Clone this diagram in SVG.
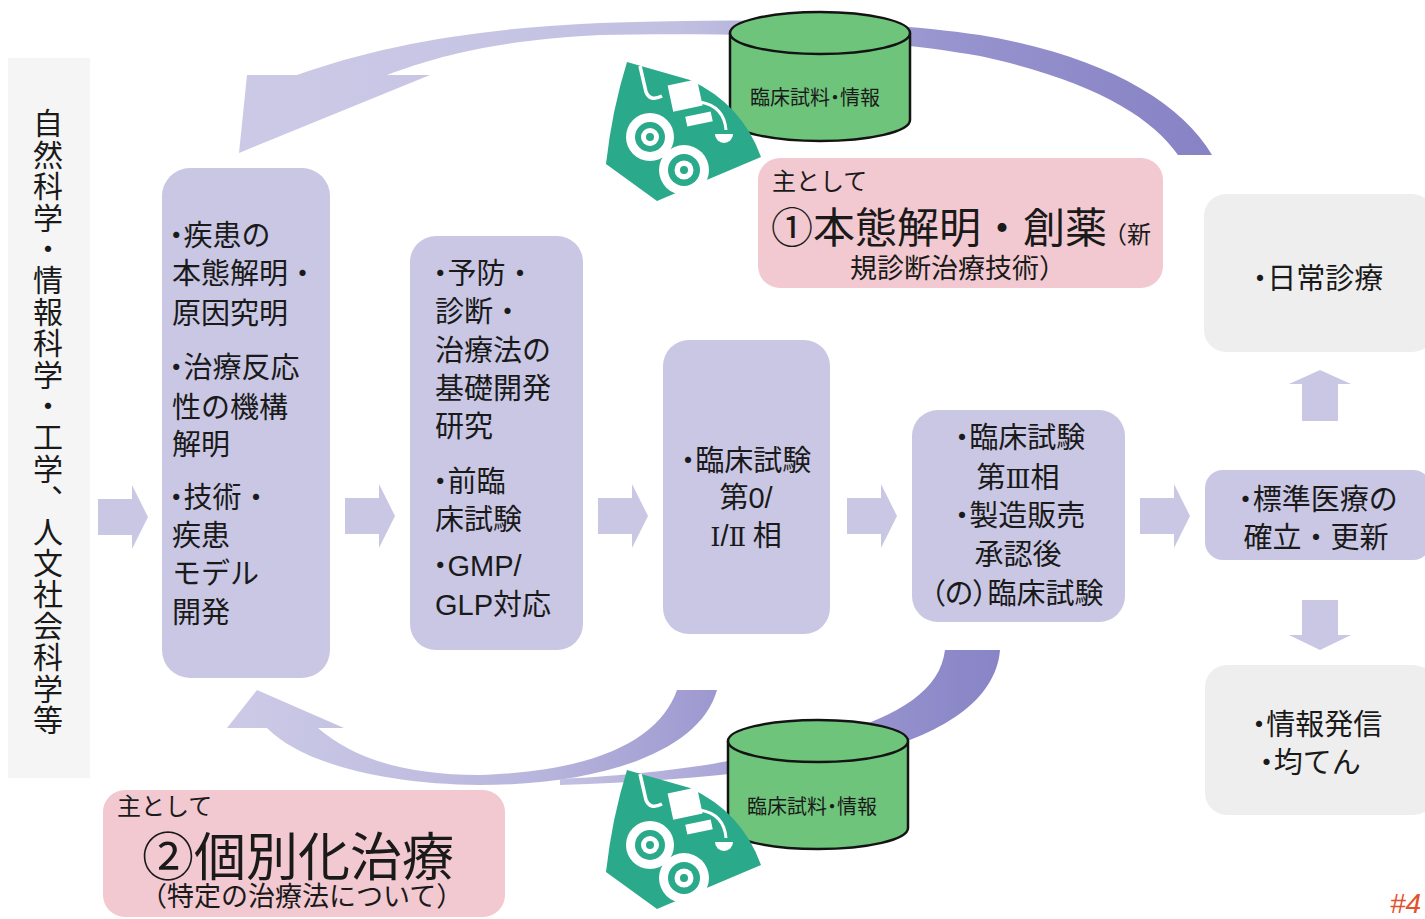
<svg xmlns="http://www.w3.org/2000/svg" xmlns:xlink="http://www.w3.org/1999/xlink" width="1425" height="919" viewBox="0 0 1425 919">
  <style>
    .jp { font-family: "Noto Sans CJK JP", "Liberation Sans", sans-serif; fill: #1a1a1a; }
    .lat { font-family: "Liberation Sans", "Noto Sans CJK JP", sans-serif; }
    .rom { font-family: "DejaVu Serif", "Liberation Serif", "Noto Sans CJK JP", serif; font-size: 26px; }
    .dot { font-feature-settings: "palt"; }
    .box { fill: #c9c7e4; }
    .grey { fill: #eeeeee; }
    .pink { fill: #f2c9d1; }
    .blk { fill: #c9c7e4; }
    .t29 { font-size: 29px; }
    .mid { text-anchor: middle; }
    .cyl { fill: #6fc47b; stroke: #141414; stroke-width: 2.5; }
    .teal { fill: #2aa98b; }
    .wht { fill: #ffffff; }
  </style>
  <defs>
    <linearGradient id="gTop" gradientUnits="userSpaceOnUse" x1="300" y1="0" x2="1200" y2="0">
      <stop offset="0" stop-color="#cbc9e6"/>
      <stop offset="0.42" stop-color="#c2c0e1"/>
      <stop offset="0.7" stop-color="#9995cf"/>
      <stop offset="1" stop-color="#8783c5"/>
    </linearGradient>
    <linearGradient id="gLowA" gradientUnits="userSpaceOnUse" x1="250" y1="0" x2="720" y2="0">
      <stop offset="0" stop-color="#cbc9e6"/>
      <stop offset="0.6" stop-color="#b9b6dd"/>
      <stop offset="1" stop-color="#9c98d0"/>
    </linearGradient>
    <linearGradient id="gLowB" gradientUnits="userSpaceOnUse" x1="560" y1="0" x2="1000" y2="0">
      <stop offset="0" stop-color="#c3c1e2"/>
      <stop offset="0.5" stop-color="#a19dd3"/>
      <stop offset="1" stop-color="#8884c6"/>
    </linearGradient>
    <!-- right-pointing block arrow, origin at tail centre -->
    <path id="arrowR" d="M0,-18 L34,-18 L34,-32 L50,0 L34,32 L34,18 L0,18 Z"/>
    <!-- media clip-art: sheet with two discs, monitor and stethoscope -->
    <g id="media">
      <path class="teal" d="M627,62 L690,80 Q742,104 761,157 L657,201 L606,164 Q612,110 627,62 Z"/>
      <path d="M640,66 L646,92 Q650,102 662,96" fill="none" stroke="#ffffff" stroke-width="3.5"/>
      <rect class="wht" x="670" y="82" width="30" height="27" transform="rotate(-12 685 95)"/>
      <rect class="wht" x="686" y="114" width="26" height="10" transform="rotate(-12 699 119)"/>
      <path d="M700,102 Q724,106 726,130" fill="none" stroke="#ffffff" stroke-width="3"/>
      <path class="wht" d="M715,134 A9,9 0 0 0 733,134 Z"/>
      <circle class="wht" cx="650" cy="137" r="24"/>
      <circle class="teal" cx="650" cy="137" r="15"/>
      <circle class="wht" cx="650" cy="137" r="9"/>
      <circle class="teal" cx="650" cy="137" r="4"/>
      <circle class="wht" cx="684" cy="170" r="25"/>
      <circle class="teal" cx="684" cy="170" r="16"/>
      <circle class="wht" cx="684" cy="170" r="9.5"/>
      <circle class="teal" cx="684" cy="170" r="4"/>
    </g>
  </defs>

  <rect width="1425" height="919" fill="#ffffff"/>

  <!-- discipline label, vertical -->
  <g id="disciplines">
    <rect x="8" y="58" width="82" height="720" fill="#f5f5f5"/>
    <text class="jp" x="48" y="108" font-size="30" letter-spacing="1.4" writing-mode="vertical-rl">自然科学・情報科学・工学、人文社会科学等</text>
  </g>

  <!-- connectors: sweeping feedback bands and block arrows -->
  <g id="connectors">
    <path fill="url(#gTop)" d="M239,153 L247,75 L297,75 C380,45 480,28 600,23 C750,18 880,20 980,35 C1100,55 1180,100 1212,155 L1178,155 C1150,115 1090,80 980,56 C880,38 750,32 600,35 C500,40 440,55 387,75 L430,75 Z"/>
    <path fill="url(#gLowA)" d="M257,690 L227,728 L267,728 C300,762 380,784 480,785 C600,785 700,752 717,690 L677,690 C660,738 600,771 480,775 C400,775 350,756 318,728 L344,728 Z"/>
    <path fill="url(#gLowB)" d="M945,650 L1000,650 C996,700 942,736 862,754 C780,771 680,781 560,785 L560,779 C680,773 760,758 830,737 C902,714 940,690 945,650 Z"/>
    <use xlink:href="#arrowR" class="blk" transform="translate(98,517)"/>
    <use xlink:href="#arrowR" class="blk" transform="translate(345,516)"/>
    <use xlink:href="#arrowR" class="blk" transform="translate(598,516)"/>
    <use xlink:href="#arrowR" class="blk" transform="translate(847,516)"/>
    <use xlink:href="#arrowR" class="blk" transform="translate(1140,516)"/>
    <path class="blk" d="M1302,421 L1302,384 L1289,384 L1320,370 L1351,384 L1338,384 L1338,421 Z"/>
    <path class="blk" d="M1302,600 L1338,600 L1338,635 L1351,635 L1320,650 L1289,635 L1302,635 Z"/>
  </g>

  <g id="basic-research">
    <rect class="box" x="162" y="168" width="168" height="510" rx="28"/>
    <text class="jp t29" x="169" y="246"><tspan class="dot">・</tspan>疾患の</text>
    <text class="jp t29" x="172" y="284">本態解明・</text>
    <text class="jp t29" x="172" y="324">原因究明</text>
    <text class="jp t29" x="169" y="378"><tspan class="dot">・</tspan>治療反応</text>
    <text class="jp t29" x="172" y="418">性の機構</text>
    <text class="jp t29" x="172" y="455">解明</text>
    <text class="jp t29" x="169" y="508"><tspan class="dot">・</tspan>技術・</text>
    <text class="jp t29" x="172" y="546">疾患</text>
    <text class="jp t29" x="172" y="584">モデル</text>
    <text class="jp t29" x="172" y="623">開発</text>
  </g>

  <g id="applied-research">
    <rect class="box" x="410" y="236" width="173" height="414" rx="26"/>
    <text class="jp t29" x="433" y="284"><tspan class="dot">・</tspan>予防・</text>
    <text class="jp t29" x="435" y="322">診断・</text>
    <text class="jp t29" x="435" y="361">治療法の</text>
    <text class="jp t29" x="435" y="399">基礎開発</text>
    <text class="jp t29" x="435" y="437">研究</text>
    <text class="jp t29" x="433" y="492"><tspan class="dot">・</tspan>前臨</text>
    <text class="jp t29" x="435" y="530">床試験</text>
    <text class="jp t29" x="433" y="576"><tspan class="dot">・</tspan><tspan class="lat">GMP/</tspan></text>
    <text class="jp t29" x="435" y="615"><tspan class="lat">GLP</tspan>対応</text>
  </g>

  <g id="early-trials">
    <rect class="box" x="663" y="340" width="167" height="294" rx="26"/>
    <text class="jp t29 mid" x="746" y="471"><tspan class="dot">・</tspan>臨床試験</text>
    <text class="jp t29 mid" x="746" y="508">第<tspan class="lat">0/</tspan></text>
    <text class="jp t29 mid" x="746" y="546"><tspan class="rom">Ⅰ</tspan><tspan class="lat">/</tspan><tspan class="rom">Ⅱ</tspan> 相</text>
  </g>

  <g id="late-trials">
    <rect class="box" x="912" y="410" width="213" height="212" rx="26"/>
    <text class="jp t29 mid" x="1020" y="448"><tspan class="dot">・</tspan>臨床試験</text>
    <text class="jp t29 mid" x="1018" y="488">第<tspan class="rom">Ⅲ</tspan>相</text>
    <text class="jp t29 mid" x="1020" y="526"><tspan class="dot">・</tspan>製造販売</text>
    <text class="jp t29 mid" x="1018" y="565">承認後</text>
    <text class="jp t29 mid" x="1017" y="604"><tspan class="dot">（の）</tspan>臨床試験</text>
  </g>

  <g id="standard-care">
    <rect class="box" x="1205" y="470" width="226" height="90" rx="18"/>
    <text class="jp t29 mid" x="1318" y="510"><tspan class="dot">・</tspan>標準医療の</text>
    <text class="jp t29 mid" x="1316" y="548">確立・更新</text>
  </g>

  <g id="daily-care">
    <rect class="grey" x="1204" y="194" width="230" height="158" rx="22"/>
    <text class="jp t29 mid" x="1318" y="289"><tspan class="dot">・</tspan>日常診療</text>
  </g>

  <g id="dissemination">
    <rect class="grey" x="1205" y="665" width="230" height="150" rx="22"/>
    <text class="jp t29 mid" x="1317" y="735"><tspan class="dot">・</tspan>情報発信</text>
    <text class="jp t29 mid" x="1310" y="773"><tspan class="dot">・</tspan>均てん</text>
  </g>

  <g id="data-upper">
    <path class="cyl" d="M730,33 L730,120 A90,21 0 0 0 910,120 L910,33"/>
    <ellipse class="cyl" cx="820" cy="33" rx="90" ry="21"/>
    <text class="jp mid" x="815" y="105" font-size="20">臨床試料<tspan class="dot">・</tspan>情報</text>
  </g>

  <g id="data-lower">
    <path class="cyl" d="M728,741 L728,828 A90,21 0 0 0 908,828 L908,741"/>
    <ellipse class="cyl" cx="818" cy="741" rx="90" ry="21"/>
    <text class="jp mid" x="812" y="814" font-size="20">臨床試料<tspan class="dot">・</tspan>情報</text>
  </g>

  <g id="media-upper">
    <use xlink:href="#media"/>
  </g>
  <g id="media-lower">
    <use xlink:href="#media" transform="translate(0,708)"/>
  </g>

  <g id="goal-drug-discovery">
    <rect class="pink" x="758" y="158" width="405" height="130" rx="22"/>
    <text class="jp"><tspan x="772" y="190" font-size="24">主として</tspan><tspan x="771" y="243" font-size="42">①本態解明・創薬</tspan><tspan font-size="24" dx="-4">（新</tspan><tspan x="850" y="278" font-size="27">規診断治療技術）</tspan></text>
  </g>

  <g id="goal-personalised">
    <rect class="pink" x="103" y="790" width="402" height="127" rx="22"/>
    <text class="jp"><tspan x="117" y="815" font-size="24">主として</tspan><tspan x="142" y="876" font-size="52">②個別化治療</tspan><tspan x="140" y="906" font-size="27">（特定の治療法について）</tspan></text>
  </g>

  <text x="1390" y="913" font-family="Liberation Sans, sans-serif" font-size="28" font-style="italic" fill="#e4512b">#4</text>
</svg>
